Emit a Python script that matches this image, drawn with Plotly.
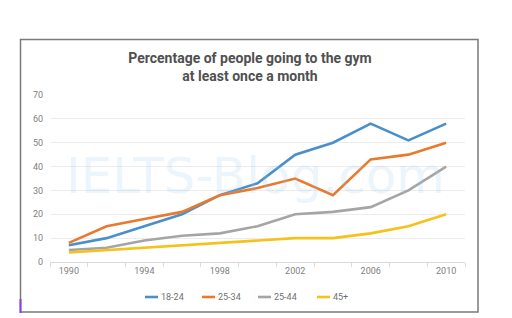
import plotly.graph_objects as go

years = [1990, 1992, 1994, 1996, 1998, 2000, 2002, 2004, 2006, 2008, 2010]
s_18_24 = [7, 10, 15, 20, 28, 33, 45, 50, 58, 51, 58]
s_25_34 = [8, 15, 18, 21, 28, 31, 35, 28, 43, 45, 50]
s_25_44 = [5, 6, 9, 11, 12, 15, 20, 21, 23, 30, 40]
s_45p = [4, 5, 6, 7, 8, 9, 10, 10, 12, 15, 20]
names = ["18-24", "25-34", "25-44", "45+"]
colors = ["#4a8fca", "#e8792f", "#a5a5a5", "#f5c11a"]
x_labels = [1990, 1994, 1998, 2002, 2006, 2010]

fig = go.Figure()
for name, vals, c in zip(names, [s_18_24, s_25_34, s_25_44, s_45p], colors):
    fig.add_trace(go.Scatter(x=years, y=vals, name=name, mode="lines",
                             line=dict(color=c, width=2.6), showlegend=False))

W, H = 512, 318
ml, mr, mt, mb = 50, 47, 95, 56
pw, ph = W - ml - mr, H - mt - mb

def px(xp):
    return (xp - ml) / pw

def py(yp):
    return (H - mb - yp) / ph

fig.update_layout(
    width=W, height=H,
    margin=dict(l=ml, r=mr, t=mt, b=mb, autoexpand=False),
    paper_bgcolor="white", plot_bgcolor="white",
    font=dict(family="Roboto, Arial, sans-serif", color="#808080", size=9),
    title=dict(text="<b>Percentage of people going to the gym<br>at least once a month</b>",
               x=px(250), xref="paper", xanchor="center",
               y=1 - 63 / H, yanchor="middle",
               font=dict(size=14, color="#505050", family="Roboto, Arial, sans-serif")),
    xaxis=dict(range=[1989, 2011], tickvals=x_labels, ticks="", showgrid=False,
               showline=True, linecolor="#d9d9d9", linewidth=1,
               tickfont=dict(size=9, color="#808080"),
               minor=dict(ticks="outside", tick0=1989, dtick=2, ticklen=4,
                          tickcolor="#d9d9d9", showgrid=False),
               zeroline=False, automargin=False),
    yaxis=dict(range=[0, 70], dtick=10, showgrid=True, gridcolor="#ececec",
               zeroline=False, tickfont=dict(size=9, color="#808080"),
               ticklabelstandoff=6, automargin=False),
    showlegend=False,
)

# compact legend drawn like the reference (short line + label)
legend_x = [145, 202, 258, 317]
for name, c, lx in zip(names, colors, legend_x):
    fig.add_shape(type="line", xref="paper", yref="paper",
                  x0=px(lx), x1=px(lx + 13), y0=py(297), y1=py(297),
                  line=dict(color=c, width=2.6))
    fig.add_annotation(text=name, xref="paper", yref="paper",
                       x=px(lx + 14), y=py(297), xanchor="left", yanchor="middle",
                       showarrow=False, font=dict(size=9, color="#707070"))

# watermark
fig.add_annotation(text="IELTS-Blog.com", xref="paper", yref="paper",
                   x=px(255), y=py(176), showarrow=False,
                   font=dict(size=50, color="rgba(150,200,235,0.18)",
                             family="DejaVu Sans, sans-serif"))

# frame of the screenshot
fig.add_shape(type="rect", xref="paper", yref="paper",
              x0=px(20.5), x1=px(478), y0=py(312), y1=py(39.5),
              line=dict(color="#7a7a7a", width=1.5), layer="below")
fig.add_shape(type="line", xref="paper", yref="paper",
              x0=px(20.5), x1=px(20.5), y0=py(313), y1=py(299),
              line=dict(color="#8a3ee0", width=2))

fig.write_html("out.html")
